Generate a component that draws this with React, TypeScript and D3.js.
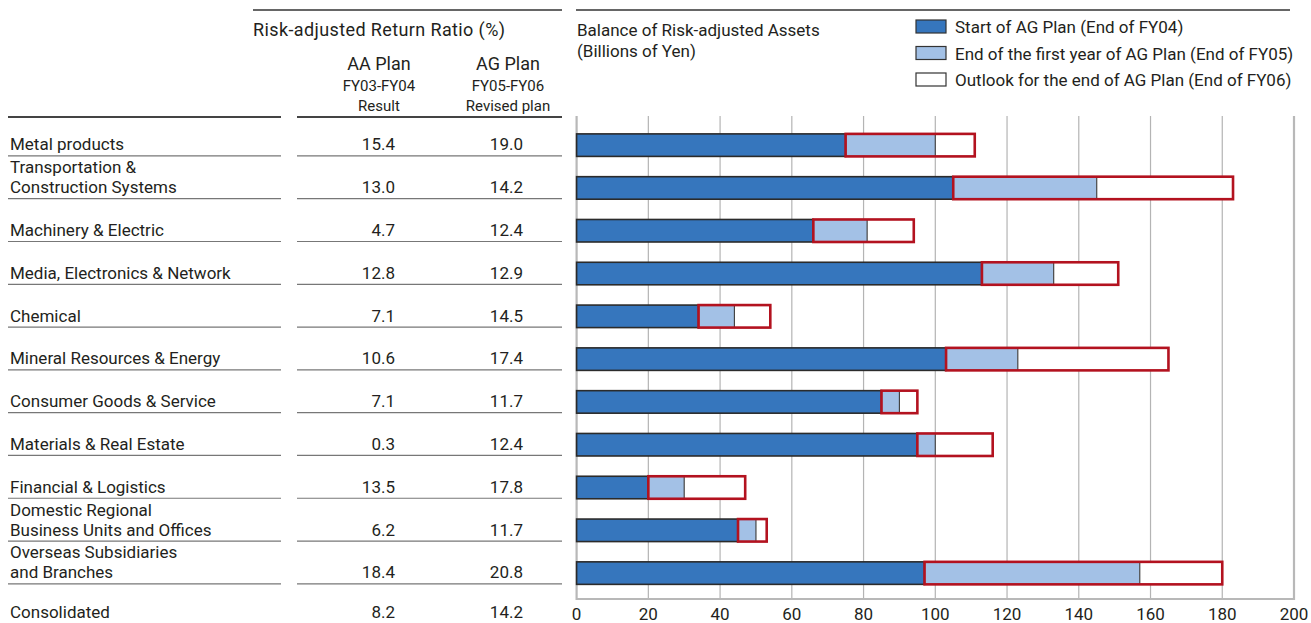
import { useRef, useEffect } from "react";
import * as d3 from "d3";

const segments = [
  "Metal products",
  "Transportation &\nConstruction Systems",
  "Machinery & Electric",
  "Media, Electronics & Network",
  "Chemical",
  "Mineral Resources & Energy",
  "Consumer Goods & Service",
  "Materials & Real Estate",
  "Financial & Logistics",
  "Domestic Regional\nBusiness Units and Offices",
  "Overseas Subsidiaries\nand Branches",
];
const aaResult = ["15.4", "13.0", "4.7", "12.8", "7.1", "10.6", "7.1", "0.3", "13.5", "6.2", "18.4"];
const agRevised = ["19.0", "14.2", "12.4", "12.9", "14.5", "17.4", "11.7", "12.4", "17.8", "11.7", "20.8"];
const consolidated = { label: "Consolidated", aa: "8.2", ag: "14.2" };

// Balance of risk-adjusted assets, billions of yen
const startFY04 = [75, 105, 66, 113, 34, 103, 85, 95, 20, 45, 97];
const endFY05 = [100, 145, 81, 133, 44, 123, 90, 100, 30, 50, 157];
const outlookFY06 = [111, 183, 94, 151, 54, 165, 95, 116, 47, 53, 180];
const xTicks = [0, 20, 40, 60, 80, 100, 120, 140, 160, 180, 200];

const legendItems = [
  { label: "Start of AG Plan (End of FY04)", fill: "#3676bd" },
  { label: "End of the first year of AG Plan (End of FY05)", fill: "#a3c1e6" },
  { label: "Outlook for the end of AG Plan (End of FY06)", fill: "#ffffff" },
];

const DARK = "#3676bd";
const LIGHT = "#a3c1e6";
const RED = "#b3121f";
const INK = "#231f20";
const FONT = "Roboto, 'Noto Sans', sans-serif";
const FS = 17;

export default function App() {
  const svgRef = useRef<SVGSVGElement>(null);

  useEffect(() => {
    document.body.style.margin = "0";
    if (!svgRef.current) return;
    const width = 1311;
    const height = 623;
    const svg = d3.select(svgRef.current);
    svg.selectAll("*").remove();
    svg.attr("width", width).attr("height", height).style("font-family", FONT);

    const plot = { left: 576.6, right: 1294, top: 116, bottom: 599 };

    const x = d3.scaleLinear().domain([0, 200]).range([plot.left, plot.right]);
    const y = d3
      .scaleBand<number>()
      .domain(d3.range(segments.length))
      .range([plot.top, plot.bottom])
      .paddingInner(0.474)
      .paddingOuter(0.38)
      .align(0.55);

    // top rules
    svg.append("line").attr("x1", 253).attr("x2", 562).attr("y1", 10).attr("y2", 10)
      .attr("stroke", "#333").attr("stroke-width", 1.5);
    svg.append("line").attr("x1", 576).attr("x2", 1290).attr("y1", 10).attr("y2", 10)
      .attr("stroke", "#333").attr("stroke-width", 1.5);

    // table header
    svg.append("text").attr("x", 253).attr("y", 36).attr("font-size", 18).attr("fill", INK)
      .attr("textLength", 252).attr("lengthAdjust", "spacing")
      .text("Risk-adjusted Return Ratio (%)");

    const headCols = [
      { cx: 379, lines: ["AA Plan", "FY03-FY04", "Result"] },
      { cx: 508, lines: ["AG Plan", "FY05-FY06", "Revised plan"] },
    ];
    headCols.forEach((c) => {
      svg.append("text").attr("x", c.cx).attr("y", 70).attr("text-anchor", "middle")
        .attr("font-size", 18).attr("fill", INK).text(c.lines[0]);
      svg.append("text").attr("x", c.cx).attr("y", 91).attr("text-anchor", "middle")
        .attr("font-size", 15).attr("fill", INK).text(c.lines[1]);
      svg.append("text").attr("x", c.cx).attr("y", 111).attr("text-anchor", "middle")
        .attr("font-size", 15).attr("fill", INK).text(c.lines[2]);
    });

    svg.append("line").attr("x1", 8).attr("x2", 281).attr("y1", 117).attr("y2", 117)
      .attr("stroke", "#444").attr("stroke-width", 2);
    svg.append("line").attr("x1", 297).attr("x2", 562).attr("y1", 117).attr("y2", 117)
      .attr("stroke", "#444").attr("stroke-width", 2);

    // table rows
    const rows = svg.append("g");
    segments.forEach((name, i) => {
      const bottom = (y(i) as number) + y.bandwidth();
      const base = bottom - 6;
      const parts = name.split("\n");
      parts.forEach((p, j) => {
        rows.append("text").attr("x", 10).attr("y", base - (parts.length - 1 - j) * 20)
          .attr("font-size", FS).attr("fill", INK).text(p);
      });
      rows.append("text").attr("x", 395).attr("y", base).attr("text-anchor", "end")
        .attr("font-size", FS).attr("fill", INK).text(aaResult[i]);
      rows.append("text").attr("x", 523).attr("y", base).attr("text-anchor", "end")
        .attr("font-size", FS).attr("fill", INK).text(agRevised[i]);
      rows.append("line").attr("x1", 8).attr("x2", 281).attr("y1", bottom - 0.5).attr("y2", bottom - 0.5)
        .attr("stroke", "#777").attr("stroke-width", 1.2);
      rows.append("line").attr("x1", 297).attr("x2", 562).attr("y1", bottom - 0.5).attr("y2", bottom - 0.5)
        .attr("stroke", "#777").attr("stroke-width", 1.2);
    });
    const lastBottom = (y(segments.length - 1) as number) + y.bandwidth();
    const consBase = lastBottom + 34;
    rows.append("text").attr("x", 10).attr("y", consBase).attr("font-size", FS).attr("fill", INK)
      .text(consolidated.label);
    rows.append("text").attr("x", 395).attr("y", consBase).attr("text-anchor", "end")
      .attr("font-size", FS).attr("fill", INK).text(consolidated.aa);
    rows.append("text").attr("x", 523).attr("y", consBase).attr("text-anchor", "end")
      .attr("font-size", FS).attr("fill", INK).text(consolidated.ag);

    // chart title
    svg.append("text").attr("x", 577).attr("y", 36).attr("font-size", FS).attr("fill", INK)
      .text("Balance of Risk-adjusted Assets");
    svg.append("text").attr("x", 577).attr("y", 57).attr("font-size", FS).attr("fill", INK)
      .text("(Billions of Yen)");

    // legend
    const legend = svg.append("g").attr("transform", "translate(916, 20)");
    legendItems.forEach((d, i) => {
      legend.append("rect").attr("x", 0).attr("y", i * 26.5).attr("width", 30).attr("height", 13)
        .attr("fill", d.fill).attr("stroke", "#333").attr("stroke-width", 1.2);
      legend.append("text").attr("x", 39).attr("y", i * 26.5 + 13).attr("font-size", FS)
        .attr("fill", INK).text(d.label);
    });

    // gridlines
    svg.append("g")
      .selectAll("line")
      .data(xTicks.slice(1, -1))
      .join("line")
      .attr("x1", (d) => x(d)).attr("x2", (d) => x(d))
      .attr("y1", plot.top).attr("y2", plot.bottom)
      .attr("stroke", "#b4b4b4").attr("stroke-width", 1.2);

    // frame
    svg.append("path")
      .attr("d", `M${plot.left},${plot.top}V${plot.bottom}H${plot.right}V${plot.top}`)
      .attr("fill", "none").attr("stroke", "#b8b8b8").attr("stroke-width", 2.2);

    // x tick labels
    svg.append("g")
      .selectAll("text")
      .data(xTicks)
      .join("text")
      .attr("x", (d) => x(d)).attr("y", 620)
      .attr("text-anchor", "middle").attr("font-size", FS).attr("fill", INK)
      .text((d) => d);

    // bars
    const bars = svg.append("g");
    segments.forEach((_, i) => {
      const y0 = y(i) as number;
      const h = y.bandwidth();
      bars.append("rect").attr("x", x(0)).attr("y", y0).attr("width", x(startFY04[i]) - x(0)).attr("height", h)
        .attr("fill", DARK).attr("stroke", "#2b2b2b").attr("stroke-width", 1.6);
      bars.append("rect").attr("x", x(startFY04[i])).attr("y", y0)
        .attr("width", x(endFY05[i]) - x(startFY04[i])).attr("height", h)
        .attr("fill", LIGHT);
      bars.append("rect").attr("x", x(endFY05[i])).attr("y", y0)
        .attr("width", x(outlookFY06[i]) - x(endFY05[i])).attr("height", h)
        .attr("fill", "#fff");
      bars.append("line").attr("x1", x(endFY05[i])).attr("x2", x(endFY05[i]))
        .attr("y1", y0).attr("y2", y0 + h).attr("stroke", "#444").attr("stroke-width", 1.2);
      bars.append("rect").attr("x", x(startFY04[i])).attr("y", y0)
        .attr("width", x(outlookFY06[i]) - x(startFY04[i])).attr("height", h)
        .attr("fill", "none").attr("stroke", RED).attr("stroke-width", 2.6);
    });
  }, []);

  return <svg ref={svgRef} style={{ display: "block" }} />;
}
